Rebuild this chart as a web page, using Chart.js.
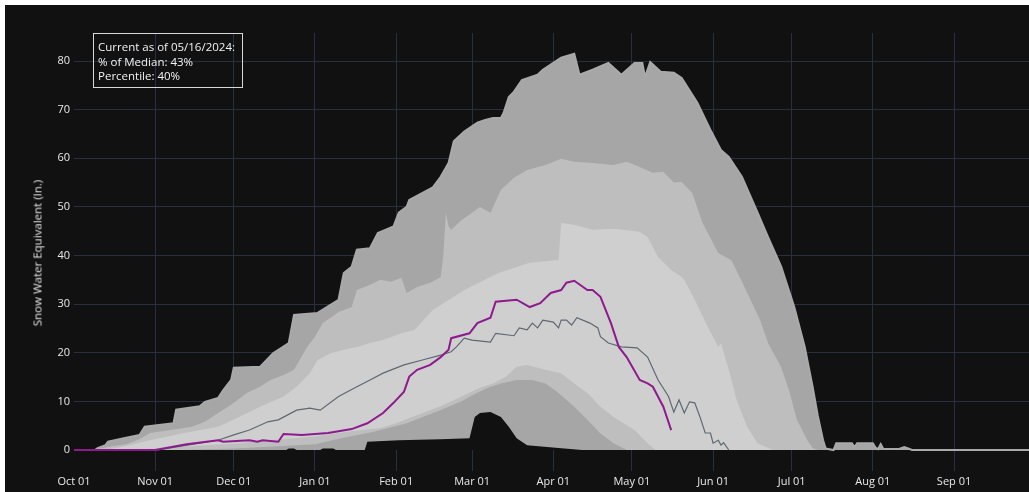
<!DOCTYPE html>
<html><head><meta charset="utf-8">
<script src="https://cdn.jsdelivr.net/npm/chart.js@4.4.1/dist/chart.umd.min.js"></script>
<style>
html,body{margin:0;padding:0;background:#fff;overflow:hidden;width:1029px;height:492px;}
#wrap{position:absolute;left:5px;top:5px;width:1025px;height:487px;background:#111111;overflow:hidden;}
#c{position:absolute;left:0;top:0;}
#note{position:absolute;left:88px;top:28px;width:150px;height:55px;box-sizing:border-box;border:1px solid #d8d8d8;color:#f2f2f2;font:11.5px "Open Sans",sans-serif;line-height:14.5px;padding:6px 4px;white-space:nowrap;}
#ytitle{position:absolute;left:32px;top:248px;transform:translate(-50%,-50%) rotate(-90deg);color:#e6e6e6;font:11.5px "Open Sans",sans-serif;white-space:nowrap;}
</style></head>
<body>
<div id="wrap">
<canvas id="c" width="1025" height="487"></canvas>
<div id="ytitle">Snow Water Equivalent (In.)</div>
<div id="note">Current as of 05/16/2024:<br>% of Median: 43%<br>Percentile: 40%</div>
</div>
<script>
// day of water year (0 = Oct 01) and SWE in inches
const monthDays = [0,31,61,92,123,152,183,213,244,274,305,336];
const monthLabels = ["Oct 01","Nov 01","Dec 01","Jan 01","Feb 01","Mar 01","Apr 01","May 01","Jun 01","Jul 01","Aug 01","Sep 01"];
const yTicks = [0,10,20,30,40,50,60,70,80];

const sweMax = [[0,0],[8,0],[9,0.4],[12,1.0],[13,1.7],[19,2.4],[25,3.1],[27,4.8],[38,5.5],[39,8.3],[48,9.0],[50,9.9],[55,10.7],[57,12.3],[60,14.4],[61,16.9],[71,17.1],[76,19.9],[82,22],[84,27.8],[93,28.2],[101,30.9],[103,36.4],[106,37.7],[108,41.2],[113,41.5],[116,44.6],[122,46],[124,48.8],[127,50],[128,51.4],[137,54],[140,56.2],[143,59],[145,63.5],[149,65.5],[154,67.3],[157,67.9],[160,68.3],[163,68.3],[164,69.3],[166,72.6],[168,73.7],[171,76.1],[177,77.2],[179,78.2],[186,80.7],[191,81.5],[193,77.2],[198,78.2],[204,79.6],[209,77.2],[214,79.6],[217,79.6],[218,76.7],[220,79.8],[224,77.8],[229,77.6],[232,76.5],[238,71.4],[243,65.8],[247,61.7],[250,60.3],[255,56.2],[261,48.8],[265,43.8],[270,37.7],[275,29.4],[279,21.2],[282,13],[284,7],[286,2],[287,0.3],[290,0],[291,1.4],[297,1.4],[298,0.6],[299,1.4],[305,1.4],[306,0.5],[307,0.2],[308,1.2],[309,0.2],[315,0.2],[317,0.6],[319,0.2],[320,0],[365,0]];

const swe90 = [[0,0],[6,0],[10,0.3],[15,0.8],[20,1.2],[25,2.2],[29,3.5],[37,4.1],[45,4.8],[50,5.8],[55,7.6],[60,9.3],[66,11.7],[71,13],[75,14.4],[80,15.4],[84,16.5],[89,21.2],[92,23.3],[95,26.1],[101,28.4],[106,29.4],[108,32.9],[113,34],[117,35],[121,34.6],[125,35.4],[127,32.3],[131,33.5],[136,34.4],[140,35.6],[141,40],[142,48.8],[143,46],[144,45.3],[148,47.3],[155,50],[159,48.8],[160,50],[163,53.5],[168,56],[173,57.6],[180,58.6],[186,59.9],[191,59.3],[198,59],[206,58.6],[211,59.3],[216,58.2],[221,57],[225,57.2],[229,55],[232,55.1],[236,52.9],[240,46.7],[246,40.5],[251,39],[256,33.5],[262,26.7],[265,22],[270,17],[273,12.3],[276,6.2],[280,2],[282,0.4],[284,0],[365,0]];

const swe70 = [[0,0],[10,0],[15,0.3],[20,0.8],[29,2],[42,3.5],[55,4.8],[63,6.8],[71,8.9],[80,11],[85,13],[90,15.8],[93,18.5],[98,19.9],[103,20.6],[108,21.2],[113,22],[118,22.6],[125,24],[130,24.7],[137,28.8],[149,32.9],[162,36.4],[174,38.5],[185,39.1],[186,46.7],[191,46.3],[198,45.3],[206,45.5],[216,44.9],[219,43.8],[223,39.7],[228,37],[232,35.6],[233,35],[237,30.9],[242,25.3],[246,21.2],[247,22],[250,16.5],[253,10.3],[257,4.8],[261,1.4],[265,0.4],[267,0],[365,0]];

const swe30 = [[0,0],[20,0],[31,0.3],[45,0.8],[61,1.3],[75,2],[92,2.8],[105,3.8],[117,4.5],[123,5.5],[130,7],[140,9],[150,11.5],[155,12.8],[160,13.7],[165,15.1],[169,17.1],[173,17.5],[180,16.5],[186,15.8],[191,13.7],[196,11.7],[201,8.9],[206,6.8],[214,4.1],[219,1.4],[222,0],[365,0]];

const swe10 = [[0,0],[40,0],[61,0.3],[80,0.8],[92,1.2],[102,2.4],[114,3.7],[127,5.5],[140,8.2],[148,10],[153,11.5],[158,12.8],[163,13.7],[169,14.4],[175,14.4],[180,13.7],[185,11.7],[191,8.9],[196,6.2],[201,3.4],[206,1.4],[211,0],[365,0]];

const sweMin = [[0,0],[81,0],[82,0.3],[84,0.3],[85,0],[94,0],[95,0.3],[99,0.3],[100,0],[111,0],[112,1.7],[124,2.0],[140,2.2],[151,2.4],[153,6.8],[155,7.6],[159,7.8],[163,6.8],[166,4.8],[169,2.4],[173,1.0],[185,0.4],[194,0],[365,0]];

const sweMedian = [[0,0],[32,0],[48,1.4],[55,2],[61,3.1],[67,4.1],[74,5.8],[78,6.2],[85,8.2],[90,8.6],[94,8.2],[101,11],[108,13],[113,14.4],[118,15.8],[126,17.5],[133,18.5],[140,19.5],[144,20.2],[146,21.2],[149,23],[152,22.6],[159,22.2],[161,24],[168,23.5],[170,25.1],[173,24.7],[175,26.1],[177,25.1],[179,26.7],[183,26.3],[185,25.1],[186,26.7],[188,26.7],[190,25.7],[192,27.2],[197,26.1],[200,25.1],[201,23.3],[204,22],[209,21.2],[215,21],[219,19.1],[223,14.4],[227,11],[229,7.8],[231,10.3],[233,7.6],[235,9.9],[237,9.7],[239,6.8],[241,3.5],[243,3.5],[244,1.4],[246,2],[247,1],[248,1.5],[250,0]];

const swe2024 = [[0,0],[31,0],[43,1.2],[55,2],[57,1.7],[67,2],[70,1.7],[72,2],[78,1.7],[80,3.3],[87,3.1],[97,3.5],[106,4.3],[112,5.5],[118,7.6],[122,9.7],[126,12],[128,15.1],[131,16.5],[136,17.5],[140,19.1],[143,20.6],[144,23],[151,24],[154,26.1],[159,27.2],[161,30.5],[169,30.9],[174,29.4],[178,30.2],[182,32.3],[186,32.9],[188,34.4],[191,34.8],[196,32.9],[198,32.9],[201,31.5],[205,26.1],[208,21.2],[211,19.1],[216,14.4],[219,13.7],[221,13],[225,8.9],[228,4.1]];

const pts = a => a.map(p => ({x:p[0], y:p[1]}));
const FONT = '"Open Sans", sans-serif';
const GRID = '#283040';
const TICK = '#e8e8e8';

function band(label, arr, color, order, bw, bc) {
  return {label, data: pts(arr), backgroundColor: color, borderColor: bc || color,
          borderWidth: bw || 0, fill: 'origin', order, pointRadius: 0, tension: 0};
}

new Chart(document.getElementById('c'), {
  type: 'line',
  data: { datasets: [
    band('Max', sweMax, '#a6a6a6', 10, 2, '#a9a9a9'),
    band('90%', swe90, '#bebebe', 9),
    band('70%', swe70, '#cfcfcf', 8),
    band('30%', swe30, '#bebebe', 7),
    band('10%', swe10, '#a6a6a6', 6),
    band('Min', sweMin, '#111111', 5),
    {label:'Median', data: pts(sweMedian), borderColor:'#5e6873', borderWidth:1.2, fill:false, order:2, pointRadius:0, tension:0},
    {label:'WY2024', data: pts(swe2024), borderColor:'#8e1b8e', borderWidth:2, fill:false, order:1, pointRadius:0, tension:0}
  ]},
  options: {
    responsive: false, animation: false, devicePixelRatio: 1,
    layout: { padding: { top: 28, left: 0, right: 0, bottom: 0 } },
    plugins: { legend: { display: false }, tooltip: { enabled: false } },
    scales: {
      x: {
        type: 'linear', min: 0, max: 365,
        afterBuildTicks: s => { s.ticks = monthDays.map(v => ({value: v})); },
        afterFit: s => { s.height = 21; },
        grid: { color: c => (c.tick && c.tick.value === 0) ? 'rgba(0,0,0,0)' : GRID, drawTicks: false, lineWidth: 1 },
        border: { display: false },
        ticks: { color: TICK, font: { family: FONT, size: 11 }, padding: 4, maxRotation: 0, autoSkip: false,
                 callback: v => monthLabels[monthDays.indexOf(v)] }
      },
      y: {
        min: -4.32, max: 85.76,
        afterBuildTicks: s => { s.ticks = yTicks.map(v => ({value: v})); },
        afterFit: s => { s.width = 69; },
        grid: { color: GRID, drawTicks: false, lineWidth: 1 },
        border: { display: false },
        ticks: { color: TICK, font: { family: FONT, size: 11 }, padding: 4 }
      }
    }
  }
});
</script>
</body></html>
